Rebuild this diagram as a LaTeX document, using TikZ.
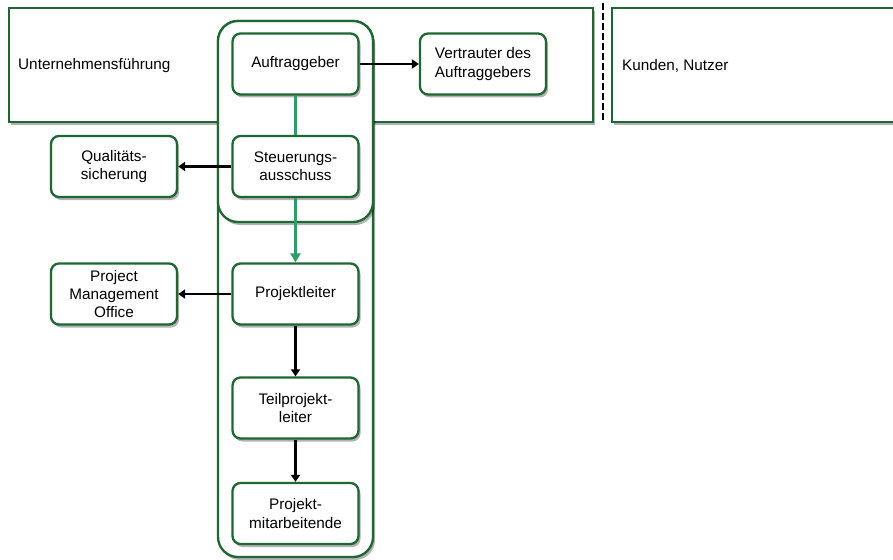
\documentclass[tikz,border=0pt]{standalone}
\usepackage{fontspec}
\setmainfont{Liberation Sans}
\usetikzlibrary{arrows.meta,shadows}
\definecolor{bord}{HTML}{1E6633}
\definecolor{conn}{HTML}{2E9E66}
\begin{document}
\begin{tikzpicture}[x=1pt,y=-1pt,
  font=\fontsize{15.3}{18.3}\selectfont,
  shad/.style={drop shadow={shadow xshift=2pt, shadow yshift=-3pt, opacity=0.3, fill=black}},
  box/.style={draw=bord, line width=2.3pt, fill=white, rounded corners=8pt, align=center,
    minimum width=126pt, minimum height=61pt, inner sep=0pt, shad},
  area/.style={draw=bord, line width=2.3pt, fill=white, shad},
  group/.style={draw=bord, line width=2.3pt, fill=white, rounded corners=20pt, shad},
  blk/.style={draw=black, line width=2.4pt, -{Triangle[width=9pt,length=7pt]}},
  grn/.style={draw=conn, line width=2.8pt},
  grnarr/.style={grn, -{Triangle[width=10pt,length=9pt]}},
  lbl/.style={anchor=west, inner sep=0pt}
]
\useasboundingbox (0,0) rectangle (893,559);
% areas
\draw[area] (9,8) rectangle (593,122);
\draw[area] (612,8) rectangle (905,122);
\coordinate (dtop) at (603,3);
\coordinate (dbot) at (603,122);
\draw[black, line width=2.8pt, dash pattern=on 7pt off 3pt] (dtop) -- (dbot);
\node[lbl] (uf) at (18,66) {Unternehmensführung};
\node[lbl] (kn) at (622,66) {Kunden, Nutzer};
% groups
\draw[group] (218,21) rectangle (373,557);
\draw[group] (218,21) rectangle (373,222);
% boxes
\node[box] (ag) at (295.5,64) {Auftraggeber};
\node[box] (va) at (483,64) {Vertrauter des\\Auftraggebers};
\node[box] (sa) at (295.5,166.5) {Steuerungs-\\ausschuss};
\node[box] (qs) at (114,166.5) {Qualitäts-\\sicherung};
\node[box] (pl) at (295.5,294) {Projektleiter};
\node[box] (pmo) at (114,294) {Project\\Management\\Office};
\node[box] (tpl) at (295.5,408) {Teilprojekt-\\leiter};
\node[box] (pm) at (295.5,513.5) {Projekt-\\mitarbeitende};
% connectors
\draw[grn] (ag) -- (sa);
\draw[grnarr] (sa) -- (pl);
\draw[blk] (ag) -- (va);
\draw[blk] (sa) -- (qs);
\draw[blk] (pl) -- (pmo);
\draw[blk] (pl) -- (tpl);
\draw[blk] (tpl) -- (pm);
\end{tikzpicture}
\end{document}
